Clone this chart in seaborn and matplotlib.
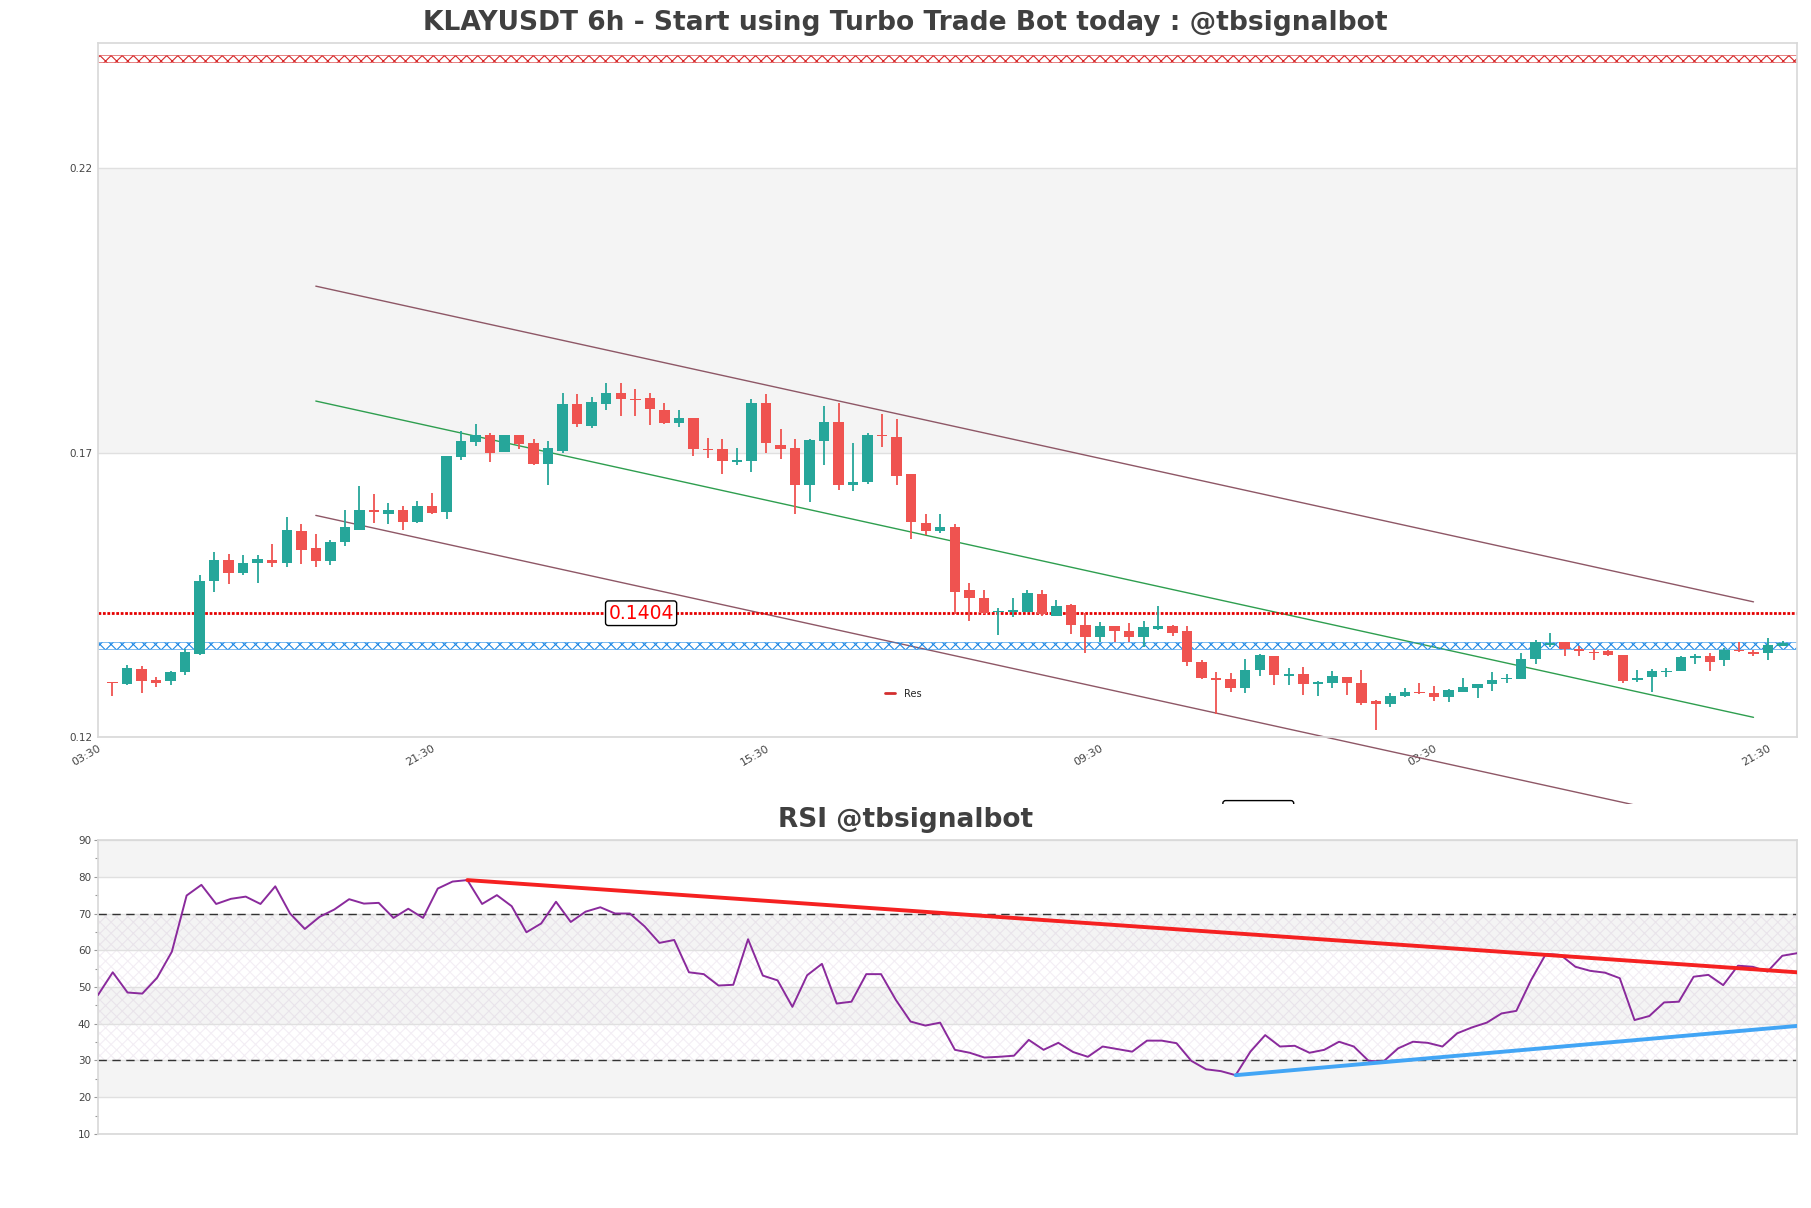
import numpy as np
import pandas as pd
import matplotlib
matplotlib.use("Agg")
import matplotlib.pyplot as plt
from matplotlib.lines import Line2D
from matplotlib.patches import Rectangle
import seaborn as sns

# velas 6h (indice 1..116)
opens = [0.1297, 0.1294, 0.1320, 0.1300, 0.1298, 0.1314, 0.1347, 0.1474, 0.1512, 0.1488,
         0.1506, 0.1512, 0.1506, 0.1563, 0.1532, 0.1509, 0.1543, 0.1565, 0.1600, 0.1593,
         0.1599, 0.1579, 0.1606, 0.1596, 0.1692, 0.1719, 0.1731, 0.1701, 0.1731, 0.1717,
         0.1680, 0.1704, 0.1786, 0.1748, 0.1786, 0.1805, 0.1795, 0.1796, 0.1776, 0.1752,
         0.1762, 0.1707, 0.1706, 0.1684, 0.1685, 0.1787, 0.1714, 0.1708, 0.1644, 0.1721,
         0.1755, 0.1643, 0.1648, 0.1732, 0.1728, 0.1662, 0.1577, 0.1562, 0.1570, 0.1458,
         0.1445, 0.1420, 0.1421, 0.1421, 0.1452, 0.1414, 0.1432, 0.1398, 0.1376, 0.1396,
         0.1387, 0.1376, 0.1391, 0.1396, 0.1386, 0.1333, 0.1304, 0.1303, 0.1286, 0.1318,
         0.1343, 0.1307, 0.1312, 0.1293, 0.1295, 0.1306, 0.1296, 0.1263, 0.1259, 0.1272,
         0.1280, 0.1278, 0.1271, 0.1280, 0.1287, 0.1293, 0.1302, 0.1303, 0.1337, 0.1363,
         0.1367, 0.1355, 0.1350, 0.1351, 0.1345, 0.1300, 0.1306, 0.1314, 0.1317, 0.1340,
         0.1343, 0.1335, 0.1354, 0.1350, 0.1348, 0.1361]
closes = [0.1295, 0.1322, 0.1298, 0.1296, 0.1315, 0.1349, 0.1475, 0.1512, 0.1488, 0.1507,
          0.1514, 0.1506, 0.1565, 0.1530, 0.1509, 0.1544, 0.1569, 0.1600, 0.1596, 0.1599,
          0.1578, 0.1606, 0.1594, 0.1694, 0.1720, 0.1731, 0.1699, 0.1732, 0.1715, 0.1680,
          0.1708, 0.1785, 0.1750, 0.1789, 0.1805, 0.1795, 0.1793, 0.1777, 0.1752, 0.1762,
          0.1706, 0.1705, 0.1685, 0.1687, 0.1787, 0.1717, 0.1706, 0.1644, 0.1722, 0.1754,
          0.1643, 0.1649, 0.1731, 0.1729, 0.1660, 0.1578, 0.1562, 0.1570, 0.1455, 0.1444,
          0.1418, 0.1422, 0.1424, 0.1454, 0.1416, 0.1431, 0.1397, 0.1376, 0.1395, 0.1386,
          0.1376, 0.1394, 0.1396, 0.1384, 0.1333, 0.1305, 0.1301, 0.1287, 0.1318, 0.1344,
          0.1309, 0.1312, 0.1293, 0.1297, 0.1308, 0.1295, 0.1261, 0.1258, 0.1273, 0.1280,
          0.1277, 0.1270, 0.1283, 0.1289, 0.1294, 0.1300, 0.1304, 0.1338, 0.1367, 0.1366,
          0.1355, 0.1351, 0.1348, 0.1344, 0.1299, 0.1304, 0.1317, 0.1316, 0.1341, 0.1343,
          0.1333, 0.1354, 0.1351, 0.1347, 0.1362, 0.1366]
highs = [0.1297, 0.1327, 0.1325, 0.1306, 0.1317, 0.1355, 0.1486, 0.1526, 0.1523, 0.1520,
         0.1520, 0.1540, 0.1587, 0.1574, 0.1557, 0.1547, 0.1600, 0.1641, 0.1627, 0.1611,
         0.1606, 0.1616, 0.1630, 0.1695, 0.1738, 0.1750, 0.1734, 0.1732, 0.1731, 0.1724,
         0.1720, 0.1805, 0.1803, 0.1799, 0.1823, 0.1823, 0.1812, 0.1805, 0.1787, 0.1776,
         0.1762, 0.1726, 0.1724, 0.1709, 0.1794, 0.1803, 0.1741, 0.1724, 0.1725, 0.1783,
         0.1787, 0.1717, 0.1734, 0.1768, 0.1760, 0.1662, 0.1593, 0.1593, 0.1574, 0.1471,
         0.1458, 0.1427, 0.1445, 0.1459, 0.1459, 0.1442, 0.1435, 0.1418, 0.1403, 0.1396,
         0.1401, 0.1405, 0.1430, 0.1397, 0.1396, 0.1336, 0.1315, 0.1313, 0.1338, 0.1347,
         0.1343, 0.1322, 0.1324, 0.1298, 0.1317, 0.1306, 0.1319, 0.1265, 0.1278, 0.1287,
         0.1295, 0.1290, 0.1285, 0.1304, 0.1294, 0.1315, 0.1312, 0.1348, 0.1371, 0.1384,
         0.1367, 0.1360, 0.1355, 0.1354, 0.1345, 0.1319, 0.1320, 0.1322, 0.1343, 0.1346,
         0.1348, 0.1357, 0.1367, 0.1354, 0.1375, 0.1370]
lows = [0.1273, 0.1292, 0.1278, 0.1289, 0.1292, 0.1309, 0.1345, 0.1455, 0.1469, 0.1486,
        0.1472, 0.1500, 0.1500, 0.1504, 0.1500, 0.1502, 0.1536, 0.1564, 0.1576, 0.1574,
        0.1564, 0.1577, 0.1592, 0.1583, 0.1687, 0.1712, 0.1684, 0.1701, 0.1707, 0.1678,
        0.1643, 0.1699, 0.1745, 0.1744, 0.1775, 0.1765, 0.1765, 0.1749, 0.1751, 0.1745,
        0.1694, 0.1691, 0.1663, 0.1679, 0.1666, 0.1699, 0.1690, 0.1592, 0.1613, 0.1678,
        0.1634, 0.1633, 0.1646, 0.1710, 0.1643, 0.1548, 0.1555, 0.1559, 0.1417, 0.1405,
        0.1417, 0.1380, 0.1411, 0.1420, 0.1414, 0.1414, 0.1381, 0.1348, 0.1368, 0.1368,
        0.1368, 0.1359, 0.1389, 0.1378, 0.1326, 0.1302, 0.1241, 0.1279, 0.1278, 0.1307,
        0.1292, 0.1291, 0.1275, 0.1272, 0.1287, 0.1275, 0.1256, 0.1212, 0.1254, 0.1270,
        0.1276, 0.1264, 0.1262, 0.1279, 0.1269, 0.1282, 0.1296, 0.1302, 0.1329, 0.1358,
        0.1342, 0.1342, 0.1335, 0.1342, 0.1295, 0.1297, 0.1279, 0.1306, 0.1317, 0.1329,
        0.1316, 0.1326, 0.1349, 0.1342, 0.1335, 0.1360]

tick_pos = [0, 23, 46, 69, 92, 115]
tick_labels = ["03:30", "21:30", "15:30", "09:30", "03:30", "21:30"]

# canal de regresion
channel_x = [15, 114]
channel_upper = [0.1993, 0.1438]
channel_mid = [0.1791, 0.1235]
channel_lower = [0.1590, 0.1035]

res_level = 0.1418
res_label = "0.1404"
sup_level = 0.1067
sup_label = "0.1067"
red_zone = (0.2387, 0.2399)
blue_zone = (0.13549, 0.13667)

rsi = [47.8, 54.0, 48.5, 48.2, 52.5, 59.6, 74.9, 77.8, 72.6, 74.0,
       74.6, 72.6, 77.4, 70.0, 65.8, 69.1, 71.1, 73.9, 72.7, 72.9,
       68.8, 71.3, 68.8, 76.8, 78.7, 79.1, 72.6, 75.0, 72.0, 64.9,
       67.3, 73.2, 67.7, 70.5, 71.7, 70.0, 70.0, 66.5, 62.0, 62.8,
       54.0, 53.5, 50.4, 50.6, 63.0, 53.1, 51.8, 44.6, 53.2, 56.3,
       45.5, 46.0, 53.5, 53.5, 46.5, 40.6, 39.5, 40.3, 32.9, 32.1,
       30.8, 31.0, 31.3, 35.6, 32.9, 34.8, 32.3, 31.0, 33.8, 33.1,
       32.4, 35.4, 35.4, 34.7, 29.9, 27.6, 27.1, 26.0, 32.4, 36.9,
       33.8, 34.0, 32.1, 32.9, 35.1, 33.8, 29.9, 29.7, 33.3, 35.1,
       34.8, 33.8, 37.4, 39.0, 40.3, 42.8, 43.5, 51.9, 59.0, 58.7,
       55.5, 54.4, 53.9, 52.4, 41.0, 42.1, 45.8, 46.0, 52.8, 53.3,
       50.5, 55.8, 55.5, 54.2, 58.5, 59.2]
rsi_res_x = [25, 115]
rsi_res_y = [79.1, 54.0]
rsi_sup_x = [77, 115]
rsi_sup_y = [26.0, 39.4]

GREEN = "#26a69a"
RED = "#ef5350"

sns.set_theme(style="white")
plt.rcParams['font.family'] = ['DejaVu Sans']
plt.rcParams['hatch.linewidth'] = 0.8

fig = plt.figure(figsize=(18.11, 12.08), dpi=100)
ax = fig.add_axes([0.0541, 0.3897, 0.9382, 0.5745])
ax2 = fig.add_axes([0.0541, 0.0613, 0.9382, 0.2433])
ax2.set_zorder(2)

# ---- precio ----
df = pd.DataFrame({"o": opens, "h": highs, "l": lows, "c": closes})
df["x"] = np.arange(1, len(df) + 1)
df["up"] = df["c"] >= df["o"]
colors = np.where(df["up"], GREEN, RED)
body_lo = df[["o", "c"]].min(axis=1)
body_h = (df["c"] - df["o"]).abs().clip(lower=0.00012)

ax.axhspan(0.17, 0.22, color="#f4f4f4", zorder=0, lw=0)
ax.vlines(df["x"], df["l"], df["h"], colors=colors, lw=1.3, zorder=3)
ax.bar(df["x"], body_h, bottom=body_lo, width=0.72, color=colors, lw=0, zorder=4)

ax.plot(channel_x, channel_upper, color="#8e5766", lw=1, zorder=2)
ax.plot(channel_x, channel_mid, color="#2e9e4f", lw=1, zorder=2)
ax.plot(channel_x, channel_lower, color="#8e5766", lw=1, zorder=2, clip_on=False)

ax.axhspan(*red_zone, facecolor="none", edgecolor="#d62728", hatch="xxx", lw=0.4, zorder=2)
ax.axhspan(*blue_zone, facecolor="none", edgecolor="#1e88e5", hatch="xxx", lw=0.4, zorder=2)
ax.axhline(res_level, color="#e50000", ls=(0, (1, 0.6)), lw=2, zorder=2)

ax.text(37.4, res_level, res_label, color="red", fontsize=13.5, ha="center", va="center",
        zorder=6, bbox=dict(boxstyle="round,pad=0.15", fc="white", ec="black", lw=1))
ax.text(79.9, sup_level, sup_label, color="red", fontsize=13.5, ha="center",
        va="center", zorder=6, clip_on=False,
        bbox=dict(boxstyle="round,pad=0.15", fc="white", ec="black", lw=1))

ax.legend([Line2D([0], [0], color="#d32f2f", lw=2)], ["Res"], loc="center left",
          bbox_to_anchor=(0.4635, 0.0625), frameon=False, fontsize=7, handlelength=1.0,
          handletextpad=0.9, borderpad=0, borderaxespad=0)

ax.set_xlim(0, 117)
ax.set_ylim(0.12, 0.242)
ax.set_yticks([0.12, 0.17, 0.22])
ax.set_yticklabels(["0.12", "0.17", "0.22"])
ax.set_xticks(tick_pos)
ax.set_xticklabels(tick_labels, rotation=30, ha="right", rotation_mode="anchor")
ax.tick_params(length=0, colors="#444444", pad=4)
ax.tick_params(axis="y", labelsize=7.5)
ax.tick_params(axis="x", labelsize=8)
ax.grid(axis="y", color="#e0e0e0", lw=1)
ax.grid(axis="x", visible=False)
ax.set_axisbelow(True)
for s in ax.spines.values():
    s.set_color("#d9d9d9")

# tapa blanca bajo el grafico de precio
fig.add_artist(Rectangle((0, 0), 1, 1 - 803.5 / 1208, transform=fig.transFigure,
                         facecolor="white", edgecolor="none", zorder=1))

# ---- RSI ----
for lo, hi in [(80, 90), (60, 70), (40, 50), (20, 30)]:
    ax2.axhspan(lo, hi, color="#f4f4f4", lw=0, zorder=0)
ax2.axhspan(30, 70, facecolor="none", edgecolor=(0.55, 0.35, 0.6, 0.10), hatch="xxx", lw=0, zorder=0.5)
ax2.axhline(70, color="#333333", ls=(0, (6, 4)), lw=1, zorder=2)
ax2.axhline(30, color="#333333", ls=(0, (6, 4)), lw=1, zorder=2)

rsi_df = pd.DataFrame({"x": np.arange(len(rsi)), "rsi": rsi})
sns.lineplot(data=rsi_df, x="x", y="rsi", ax=ax2, color="#8a2a9c", lw=1.4, zorder=3)
ax2.plot(rsi_res_x, rsi_res_y, color="#f52121", lw=2.8, zorder=4)
ax2.plot(rsi_sup_x, rsi_sup_y, color="#42a5f5", lw=2.8, zorder=4)

ax2.set_xlim(0, len(rsi) - 1)
ax2.set_ylim(10, 90)
ax2.set_yticks(range(10, 91, 10))
ax2.set_yticks(range(15, 90, 10), minor=True)
ax2.set_xticks([])
ax2.set_xlabel("")
ax2.set_ylabel("")
ax2.tick_params(axis="y", which="major", length=3, width=0.8, color="#999999",
                labelsize=7.5, labelcolor="#444444", pad=2, left=True)
ax2.tick_params(axis="y", which="minor", length=2, width=0.8, color="#999999", left=True)
ax2.grid(axis="y", color="#e0e0e0", lw=1)
ax2.set_axisbelow(True)
for s in ax2.spines.values():
    s.set_color("#d9d9d9")

fig.text(0.5, 0.981, "KLAYUSDT 6h - Start using Turbo Trade Bot today : @tbsignalbot",
         ha="center", va="center", fontsize=19.1, fontweight="bold", color="#404040")
fig.text(0.5, 0.3212, "RSI @tbsignalbot", ha="center", va="center", fontsize=19,
         fontweight="bold", color="#404040")

fig.savefig("out.png", dpi=100)
